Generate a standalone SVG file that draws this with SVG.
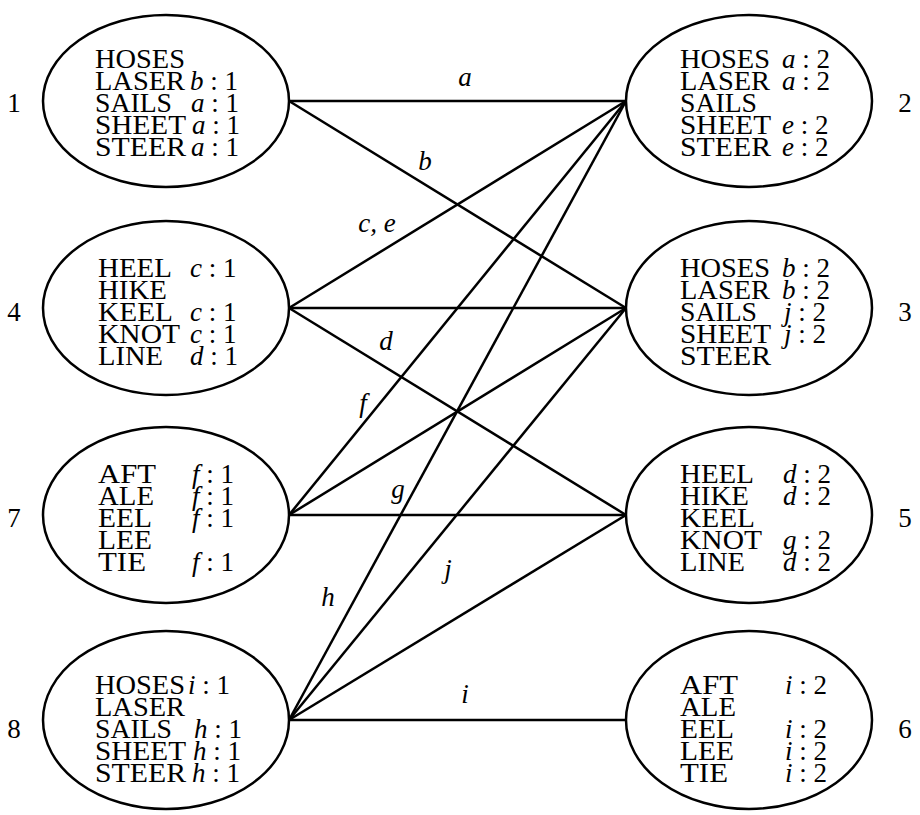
<svg xmlns="http://www.w3.org/2000/svg" width="920" height="815" viewBox="0 0 920 815">
<style>
.e{fill:#fff;stroke:#000;stroke-width:2.5}
.t{font-family:"Liberation Serif","DejaVu Serif",serif;font-size:27px;fill:#000}
.m{font-style:italic}
.c line{stroke:#000;stroke-width:2.5}
.lb{font-family:"Liberation Serif","DejaVu Serif",serif;font-size:27px;font-style:italic;fill:#000;text-anchor:middle}
.num{font-family:"Liberation Serif","DejaVu Serif",serif;font-size:27px;fill:#000;text-anchor:middle}
</style>
<rect width="920" height="815" fill="#fff"/>
<g id="connectors" class="c">
<line x1="289" y1="101" x2="626" y2="101"/>
<line x1="289" y1="101" x2="626" y2="308"/>
<line x1="289" y1="308" x2="626" y2="101"/>
<line x1="289" y1="308" x2="626" y2="308"/>
<line x1="289" y1="308" x2="626" y2="515"/>
<line x1="289" y1="515" x2="626" y2="101"/>
<line x1="289" y1="515" x2="626" y2="308"/>
<line x1="289" y1="515" x2="626" y2="515"/>
<line x1="289" y1="720" x2="626" y2="101"/>
<line x1="289" y1="720" x2="626" y2="308"/>
<line x1="289" y1="720" x2="626" y2="515"/>
<line x1="289" y1="720" x2="626" y2="720"/>
<text class="lb" x="465" y="86">a</text>
<text class="lb" x="425" y="170">b</text>
<text class="lb" x="377" y="232">c, e</text>
<text class="lb" x="386" y="350">d</text>
<text class="lb" x="363" y="412">f</text>
<text class="lb" x="398" y="498">g</text>
<text class="lb" x="328" y="606">h</text>
<text class="lb" x="448" y="578">j</text>
<text class="lb" x="465" y="703">i</text>
</g>
<g id="node1">
<ellipse class="e" cx="166" cy="101" rx="123" ry="86"/>
<text class="num" x="14" y="112">1</text>
<text class="t" x="95" y="68" textLength="90" lengthAdjust="spacingAndGlyphs">HOSES</text>
<text class="t" x="95" y="90" textLength="90" lengthAdjust="spacingAndGlyphs">LASER</text>
<text class="t" x="95" y="112" textLength="77" lengthAdjust="spacingAndGlyphs">SAILS</text>
<text class="t" x="95" y="134" textLength="91" lengthAdjust="spacingAndGlyphs">SHEET</text>
<text class="t" x="95" y="156" textLength="91" lengthAdjust="spacingAndGlyphs">STEER</text>
<text class="t" x="190" y="90"><tspan class="m">b</tspan> : 1</text>
<text class="t" x="191" y="112"><tspan class="m">a</tspan> : 1</text>
<text class="t" x="192" y="134"><tspan class="m">a</tspan> : 1</text>
<text class="t" x="191" y="156"><tspan class="m">a</tspan> : 1</text>
</g>
<g id="node4">
<ellipse class="e" cx="166" cy="308" rx="123" ry="87"/>
<text class="num" x="14" y="321">4</text>
<text class="t" x="98" y="277" textLength="74" lengthAdjust="spacingAndGlyphs">HEEL</text>
<text class="t" x="98" y="299" textLength="69" lengthAdjust="spacingAndGlyphs">HIKE</text>
<text class="t" x="98" y="321" textLength="75" lengthAdjust="spacingAndGlyphs">KEEL</text>
<text class="t" x="98" y="343" textLength="82" lengthAdjust="spacingAndGlyphs">KNOT</text>
<text class="t" x="98" y="365" textLength="65" lengthAdjust="spacingAndGlyphs">LINE</text>
<text class="t" x="190" y="277"><tspan class="m">c</tspan> : 1</text>
<text class="t" x="190" y="321"><tspan class="m">c</tspan> : 1</text>
<text class="t" x="190" y="343"><tspan class="m">c</tspan> : 1</text>
<text class="t" x="190" y="365"><tspan class="m">d</tspan> : 1</text>
</g>
<g id="node7">
<ellipse class="e" cx="166" cy="515" rx="123" ry="88"/>
<text class="num" x="14" y="527">7</text>
<text class="t" x="98" y="483" textLength="58" lengthAdjust="spacingAndGlyphs">AFT</text>
<text class="t" x="98" y="505" textLength="56" lengthAdjust="spacingAndGlyphs">ALE</text>
<text class="t" x="98" y="527" textLength="54" lengthAdjust="spacingAndGlyphs">EEL</text>
<text class="t" x="98" y="549" textLength="54" lengthAdjust="spacingAndGlyphs">LEE</text>
<text class="t" x="98" y="571" textLength="48" lengthAdjust="spacingAndGlyphs">TIE</text>
<text class="t" x="192" y="483"><tspan class="m">f</tspan> : 1</text>
<text class="t" x="192" y="505"><tspan class="m">f</tspan> : 1</text>
<text class="t" x="192" y="527"><tspan class="m">f</tspan> : 1</text>
<text class="t" x="192" y="571"><tspan class="m">f</tspan> : 1</text>
</g>
<g id="node8">
<ellipse class="e" cx="166" cy="720" rx="123" ry="89"/>
<text class="num" x="14" y="738">8</text>
<text class="t" x="95" y="694" textLength="90" lengthAdjust="spacingAndGlyphs">HOSES</text>
<text class="t" x="95" y="716" textLength="90" lengthAdjust="spacingAndGlyphs">LASER</text>
<text class="t" x="95" y="738" textLength="77" lengthAdjust="spacingAndGlyphs">SAILS</text>
<text class="t" x="95" y="760" textLength="91" lengthAdjust="spacingAndGlyphs">SHEET</text>
<text class="t" x="95" y="782" textLength="91" lengthAdjust="spacingAndGlyphs">STEER</text>
<text class="t" x="188" y="694"><tspan class="m">i</tspan> : 1</text>
<text class="t" x="194" y="738"><tspan class="m">h</tspan> : 1</text>
<text class="t" x="193" y="760"><tspan class="m">h</tspan> : 1</text>
<text class="t" x="192" y="782"><tspan class="m">h</tspan> : 1</text>
</g>
<g id="node2">
<ellipse class="e" cx="749" cy="101" rx="123" ry="86"/>
<text class="num" x="905" y="112">2</text>
<text class="t" x="680" y="68" textLength="90" lengthAdjust="spacingAndGlyphs">HOSES</text>
<text class="t" x="680" y="90" textLength="90" lengthAdjust="spacingAndGlyphs">LASER</text>
<text class="t" x="680" y="112" textLength="77" lengthAdjust="spacingAndGlyphs">SAILS</text>
<text class="t" x="680" y="134" textLength="91" lengthAdjust="spacingAndGlyphs">SHEET</text>
<text class="t" x="680" y="156" textLength="91" lengthAdjust="spacingAndGlyphs">STEER</text>
<text class="t" x="782" y="68"><tspan class="m">a</tspan> : 2</text>
<text class="t" x="782" y="90"><tspan class="m">a</tspan> : 2</text>
<text class="t" x="782" y="134"><tspan class="m">e</tspan> : 2</text>
<text class="t" x="782" y="156"><tspan class="m">e</tspan> : 2</text>
</g>
<g id="node3">
<ellipse class="e" cx="749" cy="308" rx="123" ry="87"/>
<text class="num" x="905" y="321">3</text>
<text class="t" x="680" y="277" textLength="90" lengthAdjust="spacingAndGlyphs">HOSES</text>
<text class="t" x="680" y="299" textLength="90" lengthAdjust="spacingAndGlyphs">LASER</text>
<text class="t" x="680" y="321" textLength="77" lengthAdjust="spacingAndGlyphs">SAILS</text>
<text class="t" x="680" y="343" textLength="91" lengthAdjust="spacingAndGlyphs">SHEET</text>
<text class="t" x="680" y="365" textLength="91" lengthAdjust="spacingAndGlyphs">STEER</text>
<text class="t" x="782" y="277"><tspan class="m">b</tspan> : 2</text>
<text class="t" x="782" y="299"><tspan class="m">b</tspan> : 2</text>
<text class="t" x="784" y="321"><tspan class="m">j</tspan> : 2</text>
<text class="t" x="784" y="343"><tspan class="m">j</tspan> : 2</text>
</g>
<g id="node5">
<ellipse class="e" cx="749" cy="515" rx="123" ry="88"/>
<text class="num" x="905" y="527">5</text>
<text class="t" x="680" y="483" textLength="74" lengthAdjust="spacingAndGlyphs">HEEL</text>
<text class="t" x="680" y="505" textLength="69" lengthAdjust="spacingAndGlyphs">HIKE</text>
<text class="t" x="680" y="527" textLength="75" lengthAdjust="spacingAndGlyphs">KEEL</text>
<text class="t" x="680" y="549" textLength="82" lengthAdjust="spacingAndGlyphs">KNOT</text>
<text class="t" x="680" y="571" textLength="65" lengthAdjust="spacingAndGlyphs">LINE</text>
<text class="t" x="783" y="483"><tspan class="m">d</tspan> : 2</text>
<text class="t" x="783" y="505"><tspan class="m">d</tspan> : 2</text>
<text class="t" x="783" y="549"><tspan class="m">g</tspan> : 2</text>
<text class="t" x="783" y="571"><tspan class="m">d</tspan> : 2</text>
</g>
<g id="node6">
<ellipse class="e" cx="749" cy="720" rx="123" ry="89"/>
<text class="num" x="905" y="738">6</text>
<text class="t" x="680" y="694" textLength="58" lengthAdjust="spacingAndGlyphs">AFT</text>
<text class="t" x="680" y="716" textLength="56" lengthAdjust="spacingAndGlyphs">ALE</text>
<text class="t" x="680" y="738" textLength="54" lengthAdjust="spacingAndGlyphs">EEL</text>
<text class="t" x="680" y="760" textLength="54" lengthAdjust="spacingAndGlyphs">LEE</text>
<text class="t" x="680" y="782" textLength="48" lengthAdjust="spacingAndGlyphs">TIE</text>
<text class="t" x="785" y="694"><tspan class="m">i</tspan> : 2</text>
<text class="t" x="785" y="738"><tspan class="m">i</tspan> : 2</text>
<text class="t" x="785" y="760"><tspan class="m">i</tspan> : 2</text>
<text class="t" x="785" y="782"><tspan class="m">i</tspan> : 2</text>
</g>
</svg>
